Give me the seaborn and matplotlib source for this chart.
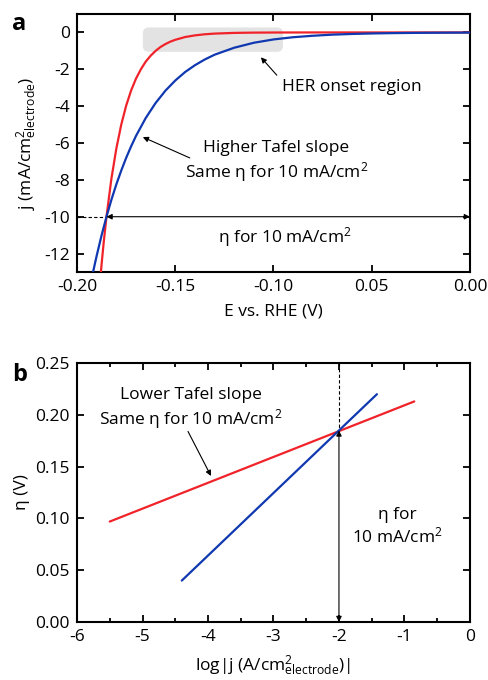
import numpy as np
import pandas as pd
import matplotlib
matplotlib.use("Agg")
import matplotlib.pyplot as plt
import seaborn as sns
from matplotlib.patches import FancyBboxPatch
from matplotlib.ticker import FixedLocator, FixedFormatter, MultipleLocator

# ---- data ----
red_E = [-0.188, -0.1875, -0.1865, -0.185, -0.1825, -0.18, -0.1775, -0.175, -0.1725, -0.17,
         -0.1675, -0.165, -0.1625, -0.16, -0.1575, -0.155, -0.1525, -0.15, -0.145, -0.14,
         -0.135, -0.13, -0.12, -0.11, -0.10, -0.08, -0.05, 0.0]
red_j = [-13.18, -12.59, -11.48, -10.0, -7.94, -6.31, -5.01, -3.98, -3.16, -2.51,
         -2.00, -1.58, -1.26, -1.00, -0.79, -0.63, -0.50, -0.40, -0.25, -0.16,
         -0.10, -0.063, -0.025, -0.010, -0.004, -0.0006, 0.0, 0.0]
blue_E = [-0.192, -0.19, -0.1875, -0.185, -0.1825, -0.18, -0.1775, -0.175, -0.1725, -0.17,
          -0.165, -0.16, -0.155, -0.15, -0.145, -0.14, -0.135, -0.13, -0.12, -0.11,
          -0.10, -0.09, -0.08, -0.07, -0.06, -0.05, -0.04, -0.03, -0.02, -0.01, 0.0]
blue_j = [-13.08, -12.12, -11.01, -10.0, -9.08, -8.25, -7.50, -6.81, -6.19, -5.62,
          -4.64, -3.83, -3.16, -2.61, -2.15, -1.78, -1.47, -1.21, -0.83, -0.56,
          -0.38, -0.26, -0.18, -0.12, -0.083, -0.056, -0.038, -0.026, -0.018, -0.012, -0.008]

red_logj = [-5.5, -0.85]
red_eta = [0.097, 0.213]
blue_logj = [-4.4, -1.42]
blue_eta = [0.040, 0.220]

a_xticks = [-0.20, -0.15, -0.10, -0.05, 0.00]
a_xticklabels = ["-0.20", "-0.15", "-0.10", "0.05", "0.00"]
a_yticks = [0, -2, -4, -6, -8, -10, -12]
b_xticks = [-6, -5, -4, -3, -2, -1, 0]
b_yticks = [0.00, 0.05, 0.10, 0.15, 0.20, 0.25]

RED = "#f0232a"
BLUE = "#1038b0"

sns.set_style("ticks")
plt.rcParams['font.family'] = ['Open Sans', 'DejaVu Sans']
plt.rcParams['axes.unicode_minus'] = False
plt.rcParams['mathtext.fontset'] = 'custom'
plt.rcParams['mathtext.rm'] = 'Open Sans'
plt.rcParams['mathtext.it'] = 'Open Sans'
plt.rcParams['text.color'] = 'black'
plt.rcParams['axes.labelcolor'] = 'black'
plt.rcParams['xtick.color'] = 'black'
plt.rcParams['ytick.color'] = 'black'
plt.rcParams['xtick.labelcolor'] = 'black'
plt.rcParams['ytick.labelcolor'] = 'black'
FS = 12.5

fig = plt.figure(figsize=(4.89, 6.80), dpi=100)
ax1 = fig.add_axes([0.1575, 0.600, 0.8035, 0.3794])
ax2 = fig.add_axes([0.1575, 0.0853, 0.8035, 0.3807])

dfa_r = pd.DataFrame({"E": red_E, "j": red_j})
dfa_b = pd.DataFrame({"E": blue_E, "j": blue_j})
sns.lineplot(data=dfa_r, x="E", y="j", ax=ax1, color=RED, lw=1.6, sort=False, zorder=3)
sns.lineplot(data=dfa_b, x="E", y="j", ax=ax1, color=BLUE, lw=1.6, sort=False, zorder=3)

ax1.set_xlim(-0.2, 0.0)
ax1.set_ylim(-13, 1)

# HER onset region box
box = FancyBboxPatch((-0.1665, -1.05), 0.0713, 1.32,
                     boxstyle="round,pad=0,rounding_size=0.003",
                     mutation_aspect=106, facecolor="#e3e3e3", edgecolor="none", zorder=1)
ax1.add_patch(box)

arrow_kw = dict(arrowstyle='-|>', lw=0.8, color='black', mutation_scale=8, shrinkA=0, shrinkB=0)
dbl_kw = dict(arrowstyle='<|-|>', lw=0.8, color='black', mutation_scale=8, shrinkA=0, shrinkB=0)

ax1.annotate("", xy=(-0.1064, -1.35), xytext=(-0.0983, -2.32), arrowprops=arrow_kw)
ax1.text(-0.060, -2.97, "HER onset region", ha="center", va="center", fontsize=FS)

ax1.annotate("", xy=(-0.1665, -5.68), xytext=(-0.1426, -6.81), arrowprops=arrow_kw)
ax1.text(-0.0985, -7.05, "Higher Tafel slope\nSame η for 10 mA/cm$^2$", ha="center",
         va="center", fontsize=FS, linespacing=1.25)

ax1.plot([-0.2, -0.185], [-10, -10], color="black", lw=0.8, ls=(0, (3, 2)))
ax1.annotate("", xy=(-0.185, -10), xytext=(0.0, -10), arrowprops=dbl_kw)
ax1.text(-0.094, -11.1, "η for 10 mA/cm$^2$", ha="center", va="center", fontsize=FS)

ax1.xaxis.set_major_locator(FixedLocator(a_xticks))
ax1.xaxis.set_major_formatter(FixedFormatter(a_xticklabels))
ax1.set_yticks(a_yticks)
ax1.set_xlabel("E vs. RHE (V)", fontsize=FS, labelpad=6)
ax1.set_ylabel("j (mA/cm$^{2}_{\\mathrm{electrode}}$)", fontsize=FS, labelpad=4)

# panel b
dfb_r = pd.DataFrame({"logj": red_logj, "eta": red_eta})
dfb_b = pd.DataFrame({"logj": blue_logj, "eta": blue_eta})
sns.lineplot(data=dfb_r, x="logj", y="eta", ax=ax2, color=RED, lw=1.6, zorder=3)
sns.lineplot(data=dfb_b, x="logj", y="eta", ax=ax2, color=BLUE, lw=1.6, zorder=3)
ax2.set_xlim(-6, 0)
ax2.set_ylim(0, 0.25)
ax2.set_xticks(b_xticks)
ax2.xaxis.set_minor_locator(MultipleLocator(0.5))
ax2.set_yticks(b_yticks)
ax2.set_yticklabels([f"{v:.2f}" for v in b_yticks])

ax2.text(-4.26, 0.206, "Lower Tafel slope\nSame η for 10 mA/cm$^2$", ha="center",
         va="center", fontsize=FS, linespacing=1.25)
ax2.annotate("", xy=(-3.954, 0.141), xytext=(-4.305, 0.184), arrowprops=arrow_kw)

ax2.plot([-2, -2], [0.25, 0.185], color="black", lw=0.8, ls=(0, (3, 2)))
ax2.annotate("", xy=(-2, 0.185), xytext=(-2, 0.0), arrowprops=dbl_kw)
ax2.text(-1.11, 0.092, "η for\n10 mA/cm$^2$", ha="center", va="center", fontsize=FS,
         linespacing=1.25)

ax2.set_xlabel("log|j (A/cm$^{2}_{\\mathrm{electrode}}$)|", fontsize=FS, labelpad=6)
ax2.set_ylabel("η (V)", fontsize=FS, labelpad=4)

for ax in (ax1, ax2):
    for sp in ax.spines.values():
        sp.set_visible(True)
        sp.set_linewidth(1.5)
        sp.set_color("black")
    ax.tick_params(which="both", direction="in", top=True, right=True, labelsize=FS,
                   width=1.3, color="black", labelcolor="black", pad=5)
    ax.tick_params(which="major", length=5)
    ax.tick_params(which="minor", length=3)
    ax.legend_.remove() if ax.legend_ else None

fig.text(0.025, 0.965, "a", fontsize=17, fontweight="bold", va="center")
fig.text(0.025, 0.449, "b", fontsize=17, fontweight="bold", va="center")

fig.savefig("out.png", dpi=100)
